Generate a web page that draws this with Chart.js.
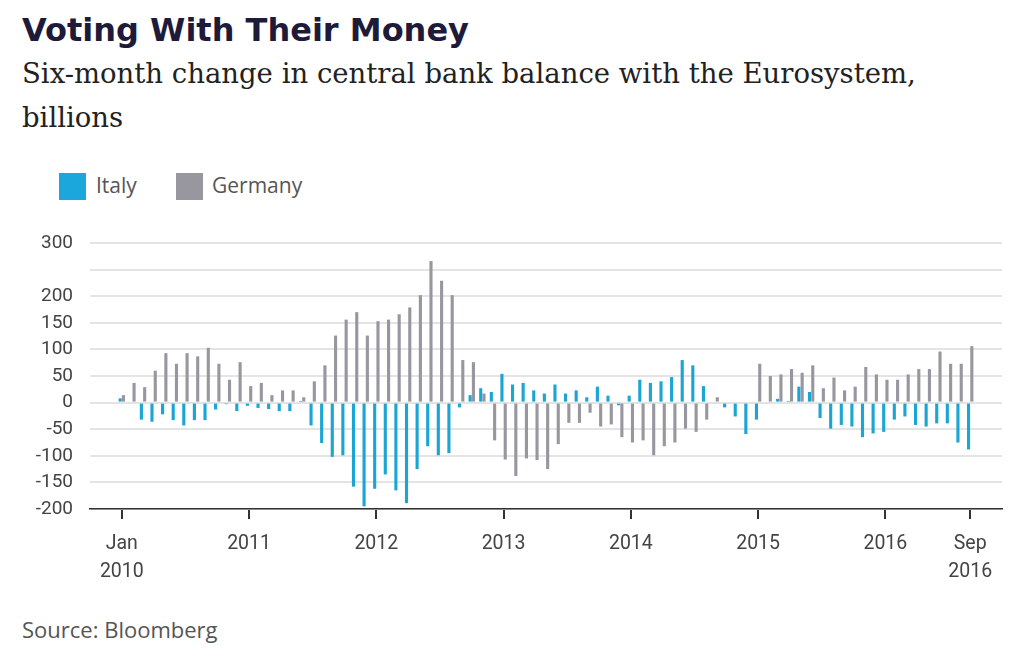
<!DOCTYPE html>
<html>
<head>
<meta charset="utf-8">
<script src="https://cdn.jsdelivr.net/npm/chart.js@4.4.1/dist/chart.umd.min.js"></script>
<style>
  html, body { margin: 0; padding: 0; background: #ffffff; }
  body { width: 1024px; height: 650px; position: relative; overflow: hidden; }
  .txt { position: absolute; white-space: nowrap; }
  #title { left: 22px; top: 11px; font-family: "DejaVu Sans", sans-serif; font-weight: 700; font-size: 32px; letter-spacing: 0px; color: #1e1b3a; }
  #sub1 { left: 22px; top: 57px; font-family: "DejaVu Serif", serif; font-size: 27.5px; color: #222; }
  #sub2 { left: 22px; top: 101px; font-family: "DejaVu Serif", serif; font-size: 27.5px; color: #222; }
  .sw { position: absolute; width: 27px; height: 27px; top: 173px; }
  .lg { position: absolute; top: 171px; font-family: "Open Sans", sans-serif; font-size: 21px; color: #555; }
  #source { left: 22px; top: 614px; font-family: "Open Sans", sans-serif; font-size: 22px; color: #555; }
  #wrap { position: absolute; left: 0; top: 0; width: 1024px; height: 650px; }
</style>
</head>
<body>
<div id="title" class="txt">Voting With Their Money</div>
<div id="sub1" class="txt">Six-month change in central bank balance with the Eurosystem,</div>
<div id="sub2" class="txt">billions</div>
<div class="sw" style="left:59px;background:#1ba6dc;"></div>
<div class="lg txt" style="left:96px;">Italy</div>
<div class="sw" style="left:176px;background:#98969f;"></div>
<div class="lg txt" style="left:212px;">Germany</div>
<div id="source" class="txt">Source: Bloomberg</div>
<div id="wrap"><canvas id="c" width="1024" height="650"></canvas></div>
<script>
// Months Jan 2010 .. Sep 2016 (81 months)
const monthNames = ["Jan","Feb","Mar","Apr","May","Jun","Jul","Aug","Sep","Oct","Nov","Dec"];
const months = [];
for (let y = 2010; y <= 2016; y++) {
  for (let m = 0; m < 12; m++) {
    if (y === 2016 && m > 8) break;
    months.push(monthNames[m] + " " + y);
  }
}

// Italy: six-month change, billions
const italy = [
  8, 0, -32, -36, -22, -33, -43, -33, -33, -13, -3, -16,
  -6, -10, -12, -16, -16, 3, -43, -76, -102, -99, -158, -195,
  -162, -135, -165, -189, -125, -82, -99, -95, -9, 14, 27, 20,
  54, 34, 37, 23, 17, 34, 17, 23, 10, 30, 13, -5,
  13, 43, 37, 40, 48, 80, 70, 31, -2, -9, -26, -59,
  -32, -2, 7, 3, 30, 20, -29, -49, -42, -45, -65, -58,
  -55, -32, -26, -42, -45, -39, -39, -75, -88
];

// Germany: six-month change, billions
const germany = [
  14, 37, 29, 60, 93, 73, 93, 87, 103, 73, 43, 76,
  31, 37, 14, 23, 23, 10, 40, 70, 126, 156, 170, 126,
  153, 156, 166, 179, 202, 266, 229, 202, 80, 76, 17, -71,
  -107, -138, -105, -108, -125, -78, -38, -38, -19, -45, -41, -65,
  -75, -71, -99, -82, -75, -49, -55, -32, 10, -2, 0, 0,
  73, 50, 53, 63, 56, 70, 27, 47, 23, 30, 67, 53,
  43, 43, 53, 63, 63, 96, 73, 73, 106
];

// X tick positions (month index) and their labels
const tickMonths = [0, 12, 24, 36, 48, 60, 72, 80];
const tickLabels = [["Jan", "2010"], "2011", "2012", "2013", "2014", "2015", "2016", ["Sep", "2016"]];

// Y axis ticks
const yTicks = [-200, -150, -100, -50, 0, 50, 100, 150, 200, 250, 300];
const yTickLabels = ["-200", "-150", "-100", "-50", "0", "50", "100", "150", "200", "", "300"];

const toXY = arr => arr.map((v, i) => ({ x: i, y: v }));

new Chart(document.getElementById("c"), {
  type: "bar",
  data: {
    datasets: [
      { label: "Italy", data: toXY(italy), backgroundColor: "#1aa5d4", categoryPercentage: 0.62, barPercentage: 0.95 },
      { label: "Germany", data: toXY(germany), backgroundColor: "#98969f", categoryPercentage: 0.62, barPercentage: 0.95 }
    ]
  },
  options: {
    responsive: false,
    animation: false,
    events: [],
    layout: { padding: { left: 0, right: 22, top: 243, bottom: 0 } },
    plugins: { legend: { display: false }, tooltip: { enabled: false }, title: { display: false } },
    scales: {
      x: {
        type: "linear",
        min: -3,
        max: 83,
        offset: false,
        afterFit: s => { s.height = 141; },
        afterBuildTicks: s => { s.ticks = tickMonths.map(v => ({ value: v })); },
        grid: { display: true, offset: false, drawOnChartArea: false, drawTicks: true, tickLength: 10, color: "#333", lineWidth: 2 },
        border: { display: true, color: "#333", width: 1.5 },
        ticks: {
          autoSkip: false, maxRotation: 0, minRotation: 0, padding: 11,
          color: "#444", font: { family: "Roboto, sans-serif", size: 19.5, lineHeight: 1.45 },
          callback: v => { const k = tickMonths.indexOf(v); return k >= 0 ? tickLabels[k] : null; }
        }
      },
      y: {
        min: -200,
        max: 300,
        afterFit: s => { s.width = 90; },
        afterBuildTicks: s => { s.ticks = yTicks.map(v => ({ value: v })); },
        grid: { color: "#e4e4e4", lineWidth: 2, drawTicks: false },
        border: { display: false },
        ticks: {
          padding: 17, color: "#444", font: { family: "Roboto, sans-serif", size: 19 },
          callback: v => { const k = yTicks.indexOf(v); return k >= 0 ? yTickLabels[k] : ""; }
        }
      }
    }
  }
});
</script>
</body>
</html>
